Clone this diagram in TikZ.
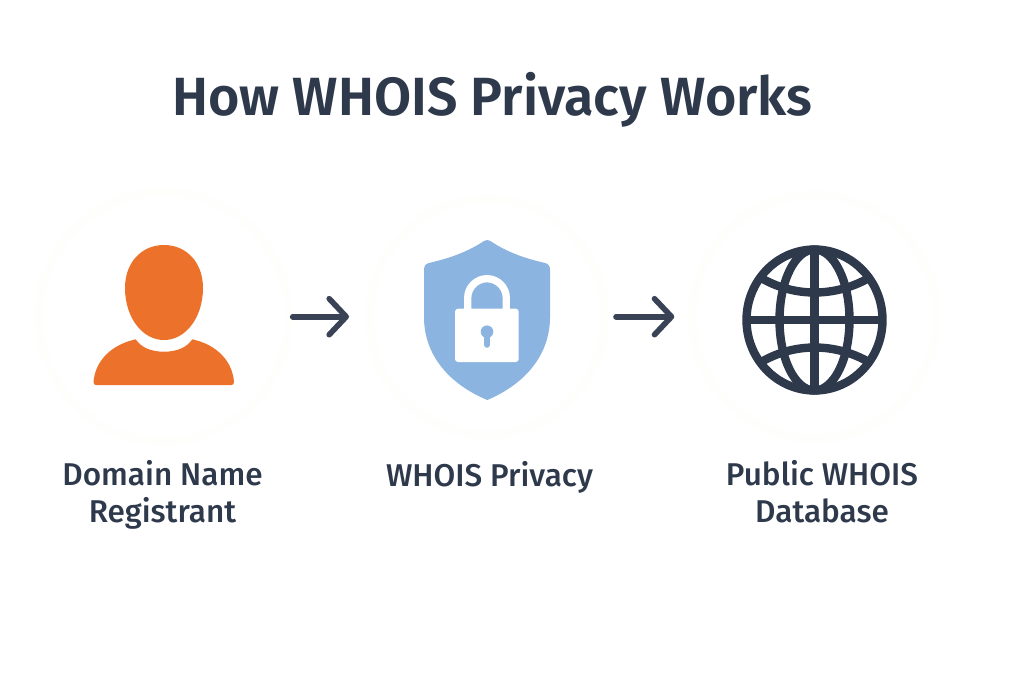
\documentclass[tikz,border=0pt]{standalone}
\usepackage{fontspec}
\setmainfont{Fira Sans}[UprightFont=* Medium,BoldFont=* SemiBold]
\usetikzlibrary{arrows.meta}
\definecolor{ink}{HTML}{2E3A4C}
\definecolor{arrowink}{HTML}{3A4256}
\definecolor{orangefill}{HTML}{EC722B}
\definecolor{shieldblue}{HTML}{8BB4E0}
\definecolor{pagetint}{HTML}{FEFEFC}
\tikzset{
  icon/.style={inner sep=0pt,outer sep=0pt},
  flow/.style={draw=arrowink,line width=5.6pt,line cap=round,-{Straight Barb[length=17pt,width=36pt,line width=5.6pt,round]}},
  globeline/.style={draw=ink,line width=8.4pt},
  halo/.style={draw=pagetint,line width=8pt},
  title/.style={font=\fontsize{53.8}{60}\selectfont\bfseries,text=ink,inner sep=0pt,anchor=base},
  caption/.style={font=\fontsize{31.5}{36.5}\selectfont,text=ink,align=center,inner sep=0pt,anchor=base},
}
\begin{document}
\begin{tikzpicture}[x=1pt,y=-1pt]
\useasboundingbox (0,0) rectangle (1024,683);
\fill[white] (0,0) rectangle (1024,683);
% icon anchors
\node[icon,minimum width=140.5pt,minimum height=140pt] (person) at (163.75,316.7) {};
\node[icon,minimum width=126pt,minimum height=160pt] (shield) at (487,316.7) {};
\node[icon,minimum width=144.4pt,minimum height=150pt] (globe) at (814.5,316.7) {};
% faint halos
\draw[halo] (person.center) circle[radius=125pt];
\draw[halo] (shield.center) circle[radius=118pt];
\draw[halo] (globe.center) circle[radius=122pt];
% person
\fill[orangefill] (164,245) .. controls (186,245) and (203,262) .. (203,288)
  .. controls (203,317) and (186,340) .. (164,340)
  .. controls (142,340) and (125,317) .. (125,288)
  .. controls (125,262) and (142,245) .. (164,245) -- cycle;
\fill[orangefill] (96,385) .. controls (94.5,385) and (93.5,384) .. (93.5,382)
  .. controls (95,362) and (110,345) .. (135.7,339.3)
  .. controls (141,347) and (150,351.7) .. (164,351.7)
  .. controls (178,351.7) and (187,347) .. (192.3,339.3)
  .. controls (218,345) and (232.5,362) .. (234,382)
  .. controls (234,384) and (233,385) .. (231.5,385) -- cycle;
% shield
\fill[shieldblue] (484,241) .. controls (486,239.6) and (488.5,239.6) .. (490.5,241)
  .. controls (505,251) and (523,258) .. (545,263)
  .. controls (548.5,264) and (550,266) .. (550,270)
  -- (550,317)
  .. controls (550,355) and (525,384) .. (487.3,400)
  .. controls (449,384) and (424,355) .. (424,317)
  -- (424,270)
  .. controls (424,266) and (425.5,264) .. (429,263)
  .. controls (451,258) and (469,251) .. (484,241) -- cycle;
\draw[white,line width=7.3pt] (467.7,312) -- (467.7,298) arc[start angle=180,end angle=0,radius=19.3pt] -- (506.3,312);
\fill[white,rounded corners=3pt] (455,308.7) rectangle (518.7,362);
\fill[shieldblue] (487,331.7) circle[radius=6.3pt];
\draw[shieldblue,line width=6.6pt,line cap=round] (487,333) -- (487,344.5);
% globe
\draw[globeline] (814.5,320) ellipse[x radius=68pt,y radius=70.5pt];
\draw[globeline] (814.5,320) ellipse[x radius=35pt,y radius=70.5pt];
\draw[globeline] (814.4,249) -- (814.4,391);
\draw[globeline] (746,320) -- (883,320);
\draw[globeline] (763,279) .. controls (795,297) and (834,297) .. (867,279);
\draw[globeline] (763,361) .. controls (795,343) and (834,343) .. (867,361);
% arrows
\draw[flow,shorten <=58.7pt,shorten >=75pt] (person.east) -- (shield.west);
\draw[flow,shorten <=66pt,shorten >=68pt] (shield.east) -- (globe.west);
% text
\node[title] (heading) at (492.5,115.5) {How WHOIS Privacy Works};
\node[caption] (lab1) at (162.5,522) {Domain Name\\Registrant};
\node[caption] (lab2) at (489.5,486) {WHOIS Privacy};
\node[caption] (lab3) at (822,522) {Public WHOIS\\Database};
\end{tikzpicture}
\end{document}
